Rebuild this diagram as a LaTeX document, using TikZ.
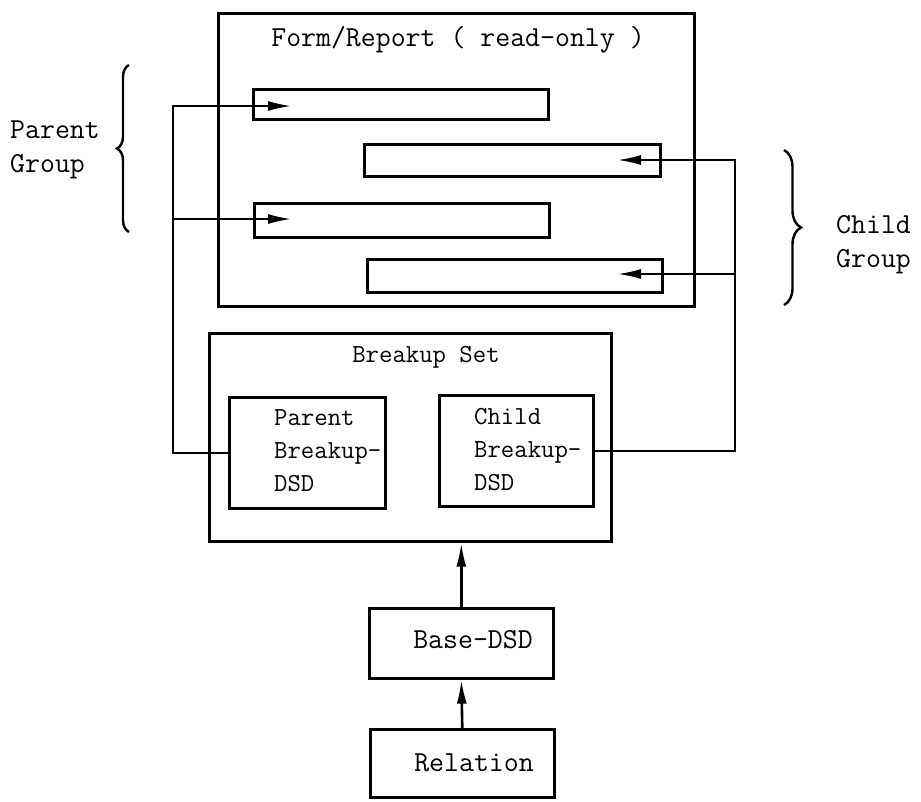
\documentclass[tikz,border=0pt]{standalone}
\usetikzlibrary{arrows.meta,decorations.pathreplacing}

\begin{document}
\begin{tikzpicture}[x=1pt,y=-1pt,
  every node/.style={font=\ttfamily\fontsize{29}{34}\selectfont, inner sep=0pt},
  tight/.style={font=\ttfamily\fontsize{26}{33}\selectfont},
  box/.style={draw, line width=2.6pt, anchor=north west, inner sep=0pt},
  wire/.style={line width=2.6pt},
  arr/.style={wire, -{Latex[length=24pt,width=10pt]}},
  grp/.style={line width=2.4pt, decorate, decoration={brace, amplitude=#1}}]
  \useasboundingbox (0,0) rectangle (921,802);

  % Form / report with its four field bars
  \node[box, minimum width=476pt, minimum height=293pt] (form) at (217,12) {};
  \node (formtitle) at (458,40) {Form/Report ( read-only )};
  \node[box, minimum width=295pt, minimum height=30pt] (bar1) at (252,88) {};
  \node[box, minimum width=296pt, minimum height=32pt] (bar2) at (363,143) {};
  \node[box, minimum width=295pt, minimum height=34pt] (bar3) at (253,202) {};
  \node[box, minimum width=295pt, minimum height=33pt] (bar4) at (366,258) {};

  % Breakup set
  \node[box, minimum width=402pt, minimum height=208pt] (bset) at (208,332) {};
  \node[tight] (bsettitle) at (426,357) {Breakup Set};
  \node[box, minimum width=156pt, minimum height=111pt] (pbd) at (228,396) {};
  \node[tight, anchor=west, align=left] (pbdtext) at (274,451) {Parent\\Breakup-\\DSD};
  \node[box, minimum width=154pt, minimum height=111pt] (cbd) at (438,394) {};
  \node[tight, anchor=west, align=left] (cbdtext) at (474,450) {Child\\Breakup-\\DSD};

  % Base DSD and relation
  \node[box, minimum width=184pt, minimum height=70pt] (base) at (368,607) {};
  \node (basetext) at (473,640) {Base-DSD};
  \node[box, minimum width=184pt, minimum height=68pt] (rel) at (369,728) {};
  \node (reltext) at (474,763) {Relation};

  % Group labels with braces
  \node[anchor=west, align=left] (pgroup) at (10,150) {Parent\\Group};
  \node[anchor=west, align=left] (cgroup) at (836,245) {Child\\Group};
  \draw[grp=12pt] (129,232) -- (129,65);
  \draw[grp=17pt] (784,150) -- (784,305);

  % Parent breakup feeds the parent bars
  \coordinate (ptop) at (173,106);
  \coordinate (pmid) at (173,219);
  \coordinate (a1) at (292,106);
  \coordinate (a3) at (292,219);
  \draw[arr] (pbd.west) -| (ptop) -- (a1);
  \draw[arr] (pmid) -- (a3);

  % Child breakup feeds the child bars
  \coordinate (ctop) at (735,160);
  \coordinate (cmid) at (735,274);
  \coordinate (a2) at (617,160);
  \coordinate (a4) at (617,274);
  \draw[arr] (cbd.east) -| (ctop) -- (a2);
  \draw[arr] (cmid) -- (a4);

  % Relation -> Base-DSD -> Breakup set
  \draw[arr] (rel.north) -- (base.south);
  \draw[arr] (base.north) -- (base.north |- bset.south);
\end{tikzpicture}
\end{document}
